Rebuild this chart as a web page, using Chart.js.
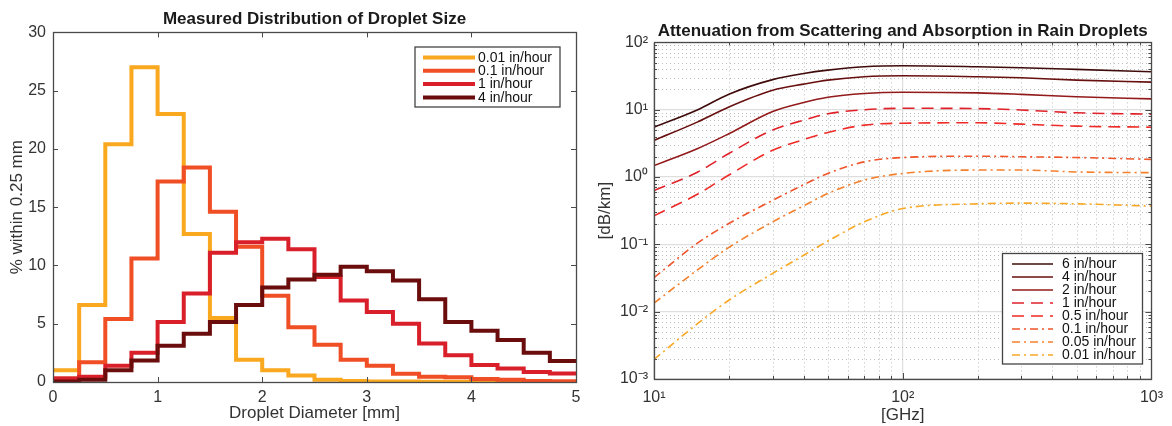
<!DOCTYPE html>
<html><head><meta charset="utf-8">
<script src="https://cdn.jsdelivr.net/npm/chart.js@4.4.0/dist/chart.umd.min.js"></script>
<style>
html,body{margin:0;padding:0;background:#fff;width:1172px;height:426px;overflow:hidden}
canvas{position:absolute;top:0}
#c1{left:0}
#c2{left:590px}
</style></head><body>
<canvas id="c1" width="590" height="426"></canvas>
<canvas id="c2" width="582" height="426"></canvas>
<script>
// ---------- Left chart data: histogram of droplet diameter (bin width 0.25 mm) ----------
const binStarts = [0,0.25,0.5,0.75,1,1.25,1.5,1.75,2,2.25,2.5,2.75,3,3.25,3.5,3.75,4,4.25,4.5,4.75];
const binLastEdge = 5;
const distLabels = ['0.01 in/hour','0.1 in/hour','1 in/hour','4 in/hour'];
const dist001 = [1.0,6.6,20.4,27.0,23.0,12.7,5.5,1.9,1.0,0.55,0.2,0.08,0.05,0.04,0.03,0.02,0.02,0.01,0.01,0.01];
const dist01  = [0.3,1.7,5.4,10.6,17.2,18.4,14.6,11.6,7.4,4.7,3.2,1.9,1.4,0.7,0.45,0.4,0.25,0.2,0.08,0.06];
const dist1   = [0.3,0.45,1.4,2.5,5.15,7.6,11.1,12.0,12.3,11.4,9.0,7.0,6.0,5.0,3.3,2.3,1.45,1.15,0.86,0.72];
const dist4   = [0.05,0.2,1.0,1.85,3.1,4.15,5.15,6.6,8.1,8.8,9.2,9.9,9.5,8.7,7.1,5.15,4.4,3.6,2.5,1.8];
const distColors = ['#f9a81f','#f04e24','#d9202a','#6b0d0d'];
const xTicksLeft = [0,1,2,3,4,5];
const yTicksLeft = [0,5,10,15,20,25,30];

// ---------- Right chart data: attenuation vs frequency ----------
const freqGHz = [10,15,20,30,40,50,70,100,200,300,500,1000];
const rainLabels = ['6 in/hour','4 in/hour','2 in/hour','1 in/hour','0.5 in/hour','0.1 in/hour','0.05 in/hour','0.01 in/hour'];
const att6   = [5.5,10,17,28,34.5,38.7,43.4,44.9,43.4,42,39.7,36.6];
const att4   = [3.5,6.6,11,19.5,24,27.5,30.9,31.9,30.9,29.8,27.5,25.7];
const att2   = [1.48,2.66,4.4,9.4,12.8,15.3,17.4,18.2,17.8,16.9,15.6,14.5];
const att1   = [0.63,1.19,2.24,5.0,7.0,8.7,10.0,10.5,10.4,9.9,9.0,8.6];
const att05  = [0.265,0.56,1.07,2.5,3.6,4.6,5.9,6.3,6.4,6.1,5.7,5.5];
const att01  = [0.032,0.105,0.204,0.45,0.77,1.13,1.68,1.95,2.04,2.0,1.95,1.83];
const att005 = [0.0134,0.042,0.09,0.216,0.374,0.57,0.9,1.13,1.27,1.27,1.19,1.16];
const att001 = [0.00195,0.0067,0.0148,0.037,0.069,0.112,0.216,0.34,0.40,0.41,0.40,0.37];
const rainColors = ['#3f0b0b','#680f0f','#921a1a','#e0212a','#ee2b26','#f0542a','#f5802c','#f9a826'];
const rainDash = [[],[],[],[12,7],[12,7],[8,4,2,4],[8,4,2,4],[8,4,2,4]];
const xDecades = [10,100,1000];
const yDecades = [0.001,0.01,0.1,1,10,100];

const FONT = "'Liberation Sans', Arial, Helvetica, sans-serif";
const AXIS = '#4a4a4a';
const TXT = '#333333';

const supMap = {'-':'\u207B','0':'\u2070','1':'\u00B9','2':'\u00B2','3':'\u00B3'};
function pow10Label(v){
  const e = Math.round(Math.log10(v));
  return '10' + String(e).split('').map(c => supMap[c]).join('');
}

// frame + inward ticks + optional minor grid
function framePlugin(cfg){
  return {
    id: 'frame',
    beforeDatasetsDraw(chart){
      if (!cfg.minor) return;
      const {ctx, chartArea: a, scales} = chart;
      ctx.save();
      ctx.strokeStyle = '#bdbdbd';
      ctx.lineWidth = 1;
      ctx.setLineDash([1,3]);
      const xs = scales.x, ys = scales.y;
      for (const d of cfg.minor.x) for (let m=2;m<=9;m++){
        const v=m*d; if (v<=xs.min||v>=xs.max) continue;
        const p=Math.round(xs.getPixelForValue(v))+0.5;
        ctx.beginPath(); ctx.moveTo(p,a.top); ctx.lineTo(p,a.bottom); ctx.stroke();
      }
      for (const d of cfg.minor.y) for (let m=2;m<=9;m++){
        const v=m*d; if (v<=ys.min||v>=ys.max) continue;
        const p=Math.round(ys.getPixelForValue(v))+0.5;
        ctx.beginPath(); ctx.moveTo(a.left,p); ctx.lineTo(a.right,p); ctx.stroke();
      }
      ctx.restore();
    },
    afterDraw(chart){
      const {ctx, chartArea: a, scales} = chart;
      const xs = scales.x, ys = scales.y;
      ctx.save();
      ctx.strokeStyle = AXIS;
      ctx.lineWidth = 1;
      ctx.setLineDash([]);
      const L=a.left, R=a.right, T=a.top, B=a.bottom;
      const tick = (x1,y1,x2,y2)=>{ctx.beginPath();ctx.moveTo(x1,y1);ctx.lineTo(x2,y2);ctx.stroke();};
      for (const v of cfg.xTicks){
        const p=Math.round(xs.getPixelForValue(v))+0.5;
        tick(p,B,p,B-cfg.major); tick(p,T,p,T+cfg.major);
      }
      for (const v of cfg.yTicks){
        const p=Math.round(ys.getPixelForValue(v))+0.5;
        tick(L,p,L+cfg.major,p); tick(R,p,R-cfg.major,p);
      }
      if (cfg.minor){
        for (const d of cfg.minor.x) for (let m=2;m<=9;m++){
          const v=m*d; if (v<=xs.min||v>=xs.max) continue;
          const p=Math.round(xs.getPixelForValue(v))+0.5;
          tick(p,B,p,B-cfg.minorLen); tick(p,T,p,T+cfg.minorLen);
        }
        for (const d of cfg.minor.y) for (let m=2;m<=9;m++){
          const v=m*d; if (v<=ys.min||v>=ys.max) continue;
          const p=Math.round(ys.getPixelForValue(v))+0.5;
          tick(L,p,L+cfg.minorLen,p); tick(R,p,R-cfg.minorLen,p);
        }
      }
      ctx.lineWidth = 1.3;
      ctx.strokeRect(Math.round(L)+0.5, Math.round(T)+0.5, Math.round(R-L), Math.round(B-T));
      ctx.restore();
    }
  };
}

function legendPlugin(cfg){
  return {
    id: 'boxLegend',
    afterDraw(chart){
      const ctx = chart.ctx;
      ctx.save();
      ctx.fillStyle = '#fff';
      ctx.fillRect(cfg.x, cfg.y, cfg.w, cfg.h);
      ctx.strokeStyle = '#444';
      ctx.lineWidth = 1.3;
      ctx.strokeRect(cfg.x, cfg.y, cfg.w, cfg.h);
      ctx.font = '14px ' + FONT;
      ctx.textBaseline = 'middle';
      ctx.textAlign = 'left';
      chart.data.datasets.forEach((ds,i)=>{
        const y = cfg.firstY + i*cfg.rowH;
        ctx.strokeStyle = ds.borderColor;
        ctx.lineWidth = ds.borderWidth;
        ctx.setLineDash(ds.borderDash || []);
        ctx.lineCap = 'butt';
        ctx.beginPath(); ctx.moveTo(cfg.s0, y); ctx.lineTo(cfg.s1, y); ctx.stroke();
        ctx.setLineDash([]);
        ctx.fillStyle = '#111';
        ctx.fillText(ds.label, cfg.tx, y+0.5);
      });
      ctx.restore();
    }
  };
}

// ---------- Left chart ----------
function histPoints(vals){
  const pts = binStarts.map((x,i)=>({x, y: vals[i]}));
  pts.push({x: binLastEdge, y: vals[vals.length-1]});
  return pts;
}
const distSeries = [dist001, dist01, dist1, dist4];
new Chart(document.getElementById('c1'), {
  type: 'line',
  data: {
    datasets: distSeries.map((vals,i)=>({
      label: distLabels[i],
      data: histPoints(vals),
      borderColor: distColors[i],
      backgroundColor: distColors[i],
      borderWidth: 4,
      stepped: true,
      pointRadius: 0,
      fill: false,
      borderJoinStyle: 'miter',
      order: distSeries.length - i
    }))
  },
  options: {
    responsive: false,
    animation: false,
    devicePixelRatio: 1,
    layout: {padding: {left: 0, right: 14, top: 0, bottom: 0}},
    plugins: {
      legend: {display: false},
      tooltip: {enabled: false},
      title: {
        display: true, fullSize: false,
        text: 'Measured Distribution of Droplet Size',
        color: '#1a1a1a',
        font: {family: FONT, size: 17, weight: 'bold', lineHeight: 1.2},
        padding: {top: 9, bottom: 3}
      }
    },
    scales: {
      x: {
        type: 'linear', min: 0, max: 5,
        afterFit: s => { s.height = 44; },
        afterBuildTicks: s => { s.ticks = xTicksLeft.map(v=>({value:v})); },
        grid: {display: false, drawTicks: false},
        border: {display: false},
        ticks: {color: TXT, font: {family: FONT, size: 16}, padding: 6, maxRotation: 0},
        title: {display: true, text: 'Droplet Diameter [mm]', color: TXT,
                font: {family: FONT, size: 17, lineHeight: 1.2}, padding: {top: 0, bottom: 2}}
      },
      y: {
        type: 'linear', min: 0, max: 30,
        afterFit: s => { s.width = 53; },
        afterBuildTicks: s => { s.ticks = yTicksLeft.map(v=>({value:v})); },
        grid: {display: false, drawTicks: false},
        border: {display: false},
        ticks: {color: TXT, font: {family: FONT, size: 16}, padding: 7},
        title: {display: true, text: '% within 0.25 mm', color: TXT,
                font: {family: FONT, size: 17, lineHeight: 1.2}, padding: {top: 7, bottom: 0}}
      }
    }
  },
  plugins: [
    framePlugin({xTicks: xTicksLeft, yTicks: yTicksLeft, major: 5}),
    legendPlugin({x: 415, y: 47, w: 145, h: 60, firstY: 57.5, rowH: 13.3, s0: 423, s1: 475, tx: 478})
  ]
});

// ---------- Right chart ----------
const attSeries = [att6, att4, att2, att1, att05, att01, att005, att001];
new Chart(document.getElementById('c2'), {
  type: 'line',
  data: {
    datasets: attSeries.map((vals,i)=>({
      label: rainLabels[i],
      data: freqGHz.map((f,j)=>({x: f, y: vals[j]})),
      borderColor: rainColors[i],
      borderWidth: 1.6,
      borderDash: rainDash[i],
      pointRadius: 0,
      fill: false,
      cubicInterpolationMode: 'monotone',
      tension: 0.4
    }))
  },
  options: {
    responsive: false,
    animation: false,
    devicePixelRatio: 1,
    layout: {padding: {left: 0, right: 14, top: 0, bottom: 0}},
    plugins: {
      legend: {display: false},
      tooltip: {enabled: false},
      title: {
        display: true, fullSize: false,
        text: 'Attenuation from Scattering and Absorption in Rain Droplets',
        color: '#1a1a1a',
        font: {family: FONT, size: 17, weight: 'bold', lineHeight: 1.2},
        padding: {top: 21, bottom: 1}
      }
    },
    scales: {
      x: {
        type: 'logarithmic', min: 10, max: 1000,
        afterFit: s => { s.height = 47; },
        afterBuildTicks: s => { s.ticks = xDecades.map(v=>({value:v})); },
        grid: {display: true, drawTicks: false, color: '#dedede', lineWidth: 1.2},
        border: {display: false},
        ticks: {color: TXT, font: {family: FONT, size: 16}, padding: 9, maxRotation: 0,
                callback: v => pow10Label(v)},
        title: {display: true, text: '[GHz]', color: TXT,
                font: {family: FONT, size: 17, lineHeight: 1.2}, padding: {top: 0, bottom: 0}}
      },
      y: {
        type: 'logarithmic', min: 0.001, max: 100,
        afterFit: s => { s.width = 64; },
        afterBuildTicks: s => { s.ticks = yDecades.map(v=>({value:v})); },
        grid: {display: true, drawTicks: false, color: '#dedede', lineWidth: 1.2},
        border: {display: false},
        ticks: {color: TXT, font: {family: FONT, size: 16}, padding: 6,
                callback: v => pow10Label(v)},
        title: {display: true, text: '[dB/km]', color: TXT,
                font: {family: FONT, size: 17, lineHeight: 1.2}, padding: {top: 5, bottom: 0}}
      }
    }
  },
  plugins: [
    framePlugin({xTicks: xDecades, yTicks: yDecades, major: 6, minorLen: 3,
                 minor: {x: [10,100], y: [0.001,0.01,0.1,1,10]}}),
    legendPlugin({x: 412.5, y: 253.5, w: 140, h: 110.5, firstY: 264, rowH: 13, s0: 422, s1: 463, tx: 472})
  ]
});
</script>
</body></html>
